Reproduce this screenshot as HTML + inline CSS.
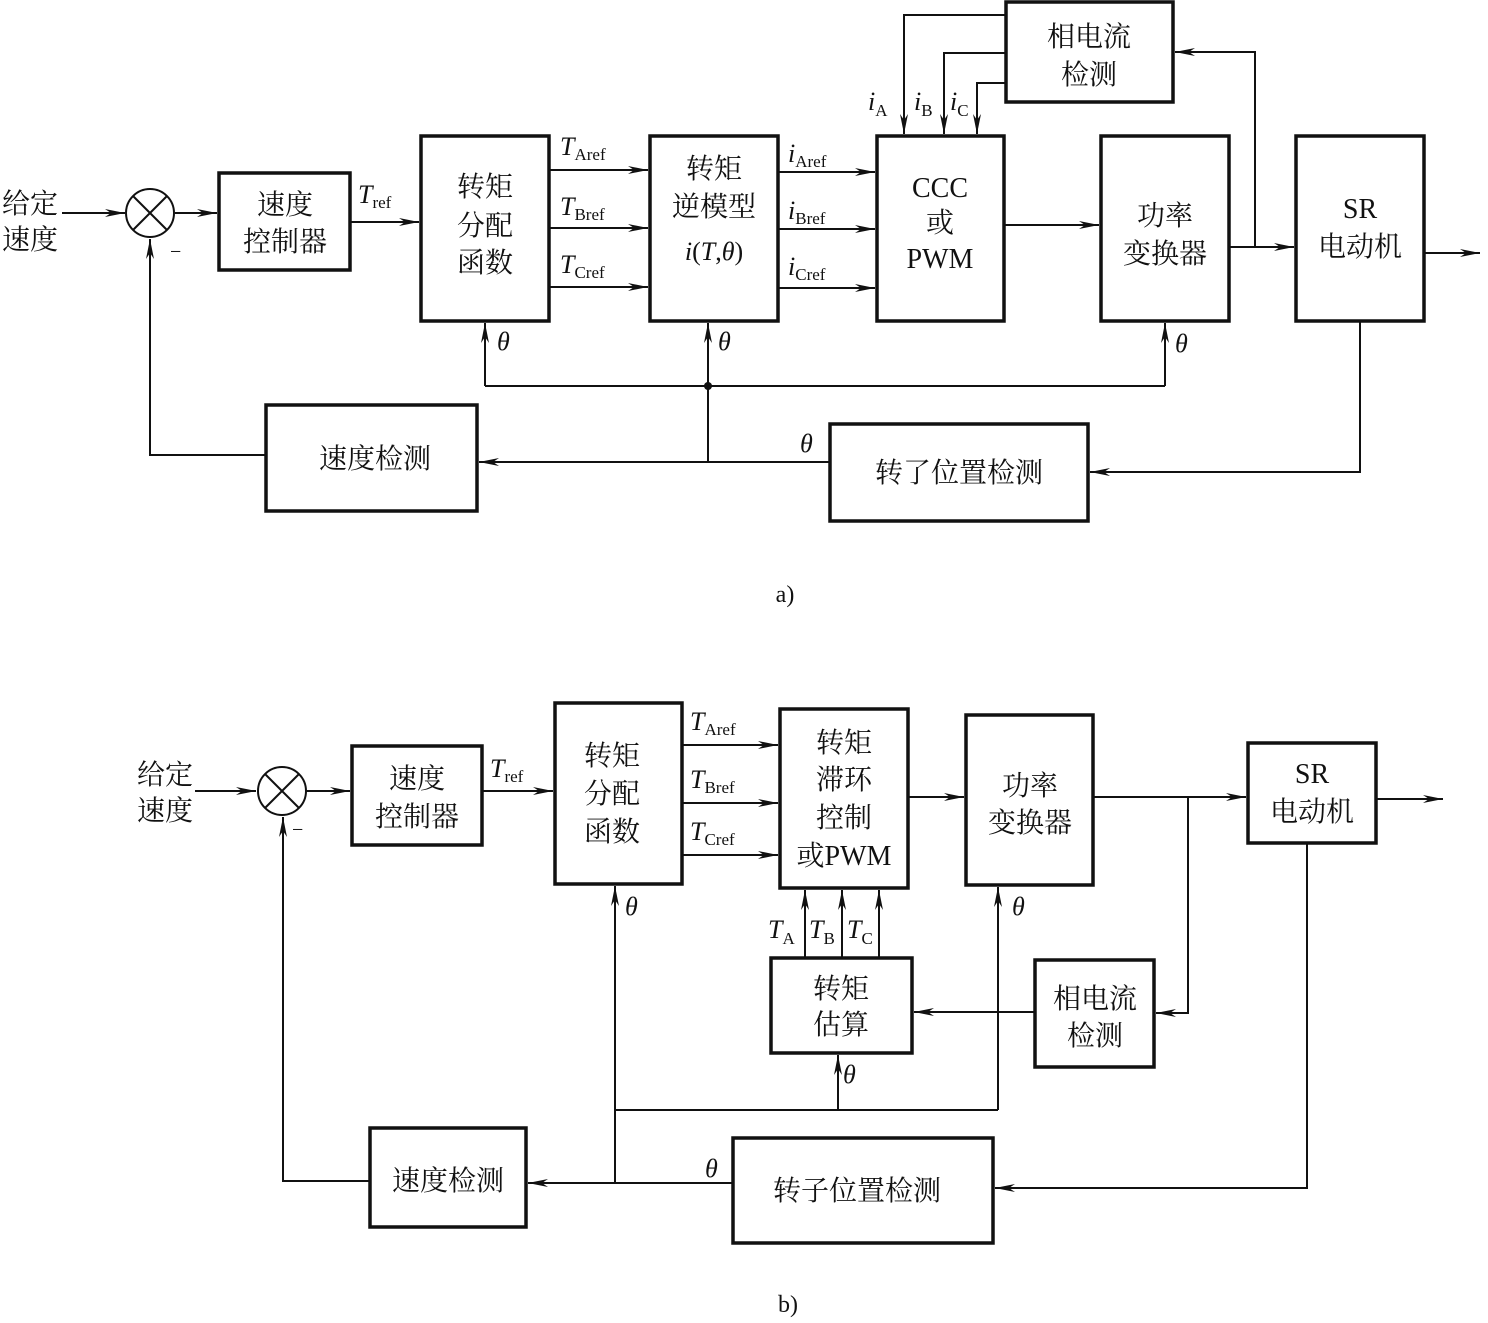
<!DOCTYPE html>
<html><head><meta charset="utf-8"><style>
html,body{margin:0;padding:0;background:#fff;}
svg text{font-family:"Liberation Serif","Noto Serif CJK SC","Noto Sans CJK SC",serif;fill:#111;}
.c{font-size:28px;text-anchor:middle;}
.i{font-style:italic;font-size:26px;}
.s{font-size:17px;font-style:normal;}
</style></head><body>
<svg width="1488" height="1318" viewBox="0 0 1488 1318" xmlns="http://www.w3.org/2000/svg">
<defs><marker id="a" viewBox="0 0 20 8" refX="20" refY="4" markerWidth="20" markerHeight="8" markerUnits="userSpaceOnUse" orient="auto"><path d="M0,0 L20,4 L0,8 L6,4Z" fill="#111"/></marker></defs>
<g fill="none" stroke="#111" stroke-width="3.5">
<!-- a boxes -->
<rect x="219" y="173" width="131" height="97"/>
<rect x="421" y="136" width="128" height="185"/>
<rect x="650" y="136" width="128" height="185"/>
<rect x="877" y="136" width="127" height="185"/>
<rect x="1101" y="136" width="128" height="185"/>
<rect x="1296" y="136" width="128" height="185"/>
<rect x="1006" y="2" width="167" height="100"/>
<rect x="830" y="424" width="258" height="97"/>
<rect x="266" y="405" width="211" height="106"/>
<!-- b boxes -->
<rect x="352" y="746" width="130" height="99"/>
<rect x="555" y="703" width="127" height="181"/>
<rect x="780" y="709" width="128" height="179"/>
<rect x="966" y="715" width="127" height="170"/>
<rect x="1248" y="743" width="128" height="100"/>
<rect x="733" y="1138" width="260" height="105"/>
<rect x="370" y="1128" width="156" height="99"/>
<rect x="771" y="958" width="141" height="95"/>
<rect x="1035" y="960" width="119" height="107"/>
</g>
<g fill="none" stroke="#111" stroke-width="2">
<circle cx="150" cy="213" r="24"/><path d="M133,196 L167,230 M167,196 L133,230"/>
<circle cx="282" cy="791" r="24"/><path d="M265,774 L299,808 M299,774 L265,808"/>
</g>
<g fill="none" stroke="#111" stroke-width="2" marker-end="url(#a)">
<!-- a -->
<path d="M62,213 H125"/><path d="M175,213 H217"/><path d="M350,222 H419"/>
<path d="M549,170 H648"/><path d="M549,228 H648"/><path d="M549,287 H648"/>
<path d="M778,172 H875"/><path d="M778,229 H875"/><path d="M778,288 H875"/>
<path d="M1004,225 H1099"/>
<path d="M1229,247 H1294"/><path d="M1255,247 V52 H1175"/>
<path d="M1006,15 H904 V134"/><path d="M1006,53 H944 V134"/><path d="M1006,83 H977 V134"/>
<path d="M1424,253 H1480"/>
<path d="M1360,321 V472 H1090"/>
<path d="M830,462 H479"/>
<path d="M485,386 V323"/><path d="M708,462 V323"/><path d="M1165,386 V323"/>
<path d="M266,455 H150 V239"/>
<!-- b -->
<path d="M195,791 H256"/><path d="M306,791 H350"/><path d="M482,791 H553"/>
<path d="M682,745 H778"/><path d="M682,803 H778"/><path d="M682,855 H778"/>
<path d="M908,797 H964"/>
<path d="M1093,797 H1246"/><path d="M1188,797 V1013 H1156"/>
<path d="M1376,799 H1443"/>
<path d="M1307,843 V1188 H995"/>
<path d="M733,1183 H528"/>
<path d="M615,1183 V886"/><path d="M838,1110 V1055"/><path d="M998,1110 V887"/>
<path d="M370,1181 H283 V817"/>
<path d="M805,958 V890"/><path d="M842,958 V890"/><path d="M879,958 V890"/>
<path d="M1035,1012 H914"/>
</g>
<g fill="none" stroke="#111" stroke-width="2">
<path d="M485,386 H1165"/><path d="M615,1110 H998"/>
</g>
<circle cx="708" cy="386" r="4" fill="#111"/>
<!-- text a -->
<text x="30" y="213" class="c">给定</text><text x="30" y="249" class="c">速度</text>
<text x="170" y="258" style="font-size:20px">−</text>
<text x="285" y="214" class="c">速度</text><text x="285" y="251" class="c">控制器</text>
<text x="358" y="203" class="i">T<tspan class="s" dy="5">ref</tspan></text>
<text x="485" y="196" class="c">转矩</text><text x="485" y="235" class="c">分配</text><text x="485" y="272" class="c">函数</text>
<text x="560" y="155" class="i">T<tspan class="s" dy="5">Aref</tspan></text>
<text x="560" y="215" class="i">T<tspan class="s" dy="5">Bref</tspan></text>
<text x="560" y="273" class="i">T<tspan class="s" dy="5">Cref</tspan></text>
<text x="714" y="178" class="c">转矩</text><text x="714" y="216" class="c">逆模型</text>
<text x="714" y="260" class="c" style="font-size:26px"><tspan font-style="italic">i</tspan>(<tspan font-style="italic">T</tspan>,<tspan font-style="italic">θ</tspan>)</text>
<text x="788" y="162" class="i">i<tspan class="s" dy="5">Aref</tspan></text>
<text x="788" y="219" class="i">i<tspan class="s" dy="5">Bref</tspan></text>
<text x="788" y="275" class="i">i<tspan class="s" dy="5">Cref</tspan></text>
<text x="940" y="197" class="c">CCC</text><text x="940" y="232" class="c">或</text><text x="940" y="268" class="c">PWM</text>
<text x="868" y="110" class="i">i<tspan class="s" dy="6">A</tspan></text>
<text x="914" y="110" class="i">i<tspan class="s" dy="6">B</tspan></text>
<text x="950" y="110" class="i">i<tspan class="s" dy="6">C</tspan></text>
<text x="1089" y="46" class="c">相电流</text><text x="1089" y="84" class="c">检测</text>
<text x="1165" y="225" class="c">功率</text><text x="1165" y="263" class="c">变换器</text>
<text x="1360" y="218" class="c">SR</text><text x="1360" y="256" class="c">电动机</text>
<text x="497" y="350" class="i">θ</text><text x="718" y="350" class="i">θ</text><text x="1175" y="352" class="i">θ</text>
<text x="800" y="452" class="i">θ</text>
<text x="959" y="482" class="c">转了位置检测</text>
<text x="375" y="468" class="c">速度检测</text>
<text x="785" y="602" class="c" style="font-size:24px">a)</text>
<!-- text b -->
<text x="165" y="784" class="c">给定</text><text x="165" y="820" class="c">速度</text>
<text x="292" y="836" style="font-size:20px">−</text>
<text x="417" y="788" class="c">速度</text><text x="417" y="826" class="c">控制器</text>
<text x="490" y="777" class="i">T<tspan class="s" dy="5">ref</tspan></text>
<text x="612" y="765" class="c">转矩</text><text x="612" y="803" class="c">分配</text><text x="612" y="841" class="c">函数</text>
<text x="690" y="730" class="i">T<tspan class="s" dy="5">Aref</tspan></text>
<text x="690" y="788" class="i">T<tspan class="s" dy="5">Bref</tspan></text>
<text x="690" y="840" class="i">T<tspan class="s" dy="5">Cref</tspan></text>
<text x="844" y="752" class="c">转矩</text><text x="844" y="789" class="c">滞环</text><text x="844" y="827" class="c">控制</text><text x="844" y="865" class="c">或PWM</text>
<text x="1030" y="795" class="c">功率</text><text x="1030" y="832" class="c">变换器</text>
<text x="1312" y="783" class="c">SR</text><text x="1312" y="821" class="c">电动机</text>
<text x="768" y="938" class="i">T<tspan class="s" dy="6">A</tspan></text>
<text x="809" y="938" class="i">T<tspan class="s" dy="6">B</tspan></text>
<text x="847" y="938" class="i">T<tspan class="s" dy="6">C</tspan></text>
<text x="841" y="998" class="c">转矩</text><text x="841" y="1034" class="c">估算</text>
<text x="1095" y="1008" class="c">相电流</text><text x="1095" y="1045" class="c">检测</text>
<text x="625" y="915" class="i">θ</text><text x="1012" y="915" class="i">θ</text><text x="843" y="1083" class="i">θ</text>
<text x="705" y="1177" class="i">θ</text>
<text x="857" y="1200" class="c">转子位置检测</text>
<text x="448" y="1190" class="c">速度检测</text>
<text x="788" y="1312" class="c" style="font-size:24px">b)</text>
</svg>
</body></html>
